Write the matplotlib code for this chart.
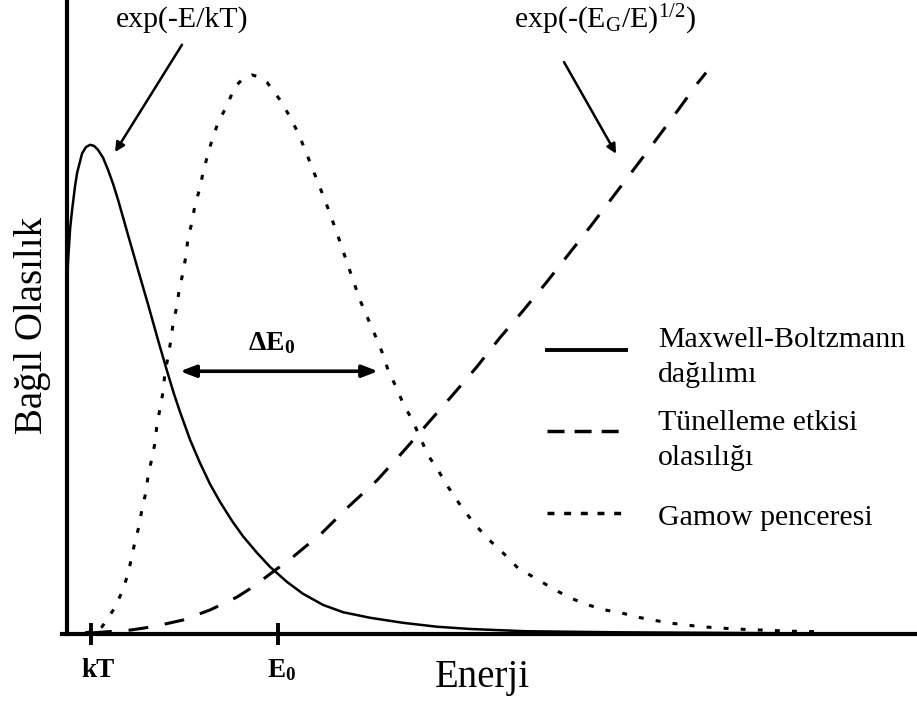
import matplotlib
matplotlib.use("Agg")
import matplotlib.pyplot as plt
import matplotlib.transforms as mtransforms

plt.rcParams['font.family'] = ['Liberation Serif', 'DejaVu Serif']
plt.rcParams['mathtext.fontset'] = 'custom'
plt.rcParams['mathtext.rm'] = 'Liberation Serif'
plt.rcParams['mathtext.it'] = 'Liberation Serif:italic'
plt.rcParams['mathtext.bf'] = 'Liberation Serif:bold'

# energy in units of kT, probability in % of the Gamow peak
mb_E = [0, 0.04, 0.13, 0.21, 0.33, 0.42, 0.63, 0.79, 0.96, 1.13, 1.29, 1.5, 1.71,
        1.92, 2.13, 2.54, 2.96, 3.38, 3.79, 4.17, 4.46, 4.71, 5.13, 5.54, 5.96,
        6.38, 6.88, 7.33, 7.92, 8.46, 9.17, 9.83, 10.67, 11.5, 12.63, 14.0, 15.42,
        16.79, 19.08, 23.04, 31.38]
mb_P = [61.5, 66.5, 72.6, 75.8, 80.0, 82.5, 86.0, 87.1, 87.5, 87.3, 86.6, 85.2, 83.0,
        80.5, 77.6, 71.4, 65.1, 58.9, 52.6, 47.0, 42.9, 39.7, 34.7, 30.6, 26.8,
        23.6, 20.2, 17.5, 14.5, 12.0, 9.3, 7.2, 5.2, 3.9, 2.9, 2.0, 1.3,
        0.9, 0.5, 0.3, 0.1]

tun_E = [1.04, 2.63, 3.58, 4.83, 5.96, 7.08, 7.63, 8.17, 9.42, 10.63, 11.71, 12.92,
         14.0, 15.04, 16.08, 17.08, 18.04, 19.0, 19.96, 20.88, 21.83, 22.75, 23.67,
         24.58, 25.46, 26.29, 26.63]
tun_P = [0.2, 0.7, 1.3, 2.5, 4.3, 6.6, 8.1, 9.8, 13.8, 18.1, 22.7, 27.5,
         32.6, 37.7, 42.8, 47.8, 53.0, 57.8, 62.8, 67.8, 73.0, 78.2, 83.4,
         88.6, 93.7, 98.6, 100.4]

gam_E = [0.75, 1.13, 1.46, 1.96, 2.29, 2.5, 2.67, 2.83, 3.0, 3.13, 3.29, 3.38, 3.54,
         3.67, 3.75, 3.88, 4.0, 4.08, 4.21, 4.33, 4.42, 4.58, 4.67, 4.83, 4.96, 5.04,
         5.21, 5.33, 5.54, 5.67, 5.88, 6.08, 6.29, 6.67, 7.0, 7.33, 7.71,
         8.04, 8.33, 8.88, 9.29, 9.63, 9.92, 10.25, 10.75, 11.25, 11.67, 12.21, 12.83,
         13.13, 13.38, 13.71, 14.0, 14.38, 14.71, 15.04, 15.46, 15.88, 16.38, 16.92,
         17.5, 18.17, 18.79, 19.63, 20.33, 21.0, 21.71, 22.42, 23.08, 23.79, 25.04,
         26.42, 27.83, 30.17, 31.42]
gam_P = [0.2, 0.5, 1.3, 4.5, 7.5, 10.2, 13.2, 16.5, 19.3, 22.5, 25.4, 28.4, 31.5,
         34.3, 37.6, 40.4, 43.3, 46.7, 49.6, 52.6, 55.6, 58.7, 61.5, 64.6, 67.8, 70.8,
         73.7, 76.7, 79.8, 82.6, 86.0, 88.9, 91.4, 94.6, 97.9, 99.3, 100.0,
         99.6, 98.7, 95.5, 92.5, 89.6, 86.6, 83.0, 77.6, 71.7, 66.4, 59.7, 53.5,
         50.4, 47.2, 44.2, 41.3, 38.3, 35.2, 32.0, 29.3, 26.3, 23.1, 20.0,
         17.2, 14.5, 11.8, 9.7, 7.9, 6.4, 5.2, 4.3, 3.8, 3.0, 2.0,
         1.3, 0.9, 0.5, 0.4]

kT = 1.0
E0 = 8.79
dE0_lo, dE0_hi, dE0_level = 4.71, 12.96, 47.0

key_labels = ['Maxwell-Boltzmann\ndağılımı', 'Tünelleme etkisi\nolasılığı', 'Gamow penceresi']

W, H = 917, 703
fig = plt.figure(figsize=(W / 100, H / 100), dpi=100)
ax = fig.add_axes([62/W, 69/H, 855/W, 634/H])
ax.set_xlim(-0.21, 35.42)
ax.set_ylim(0, 113.4)

ax.plot(mb_E, mb_P, color='black', lw=1.8)
ax.plot(tun_E, tun_P, color='black', lw=2.2, dashes=(6.5, 5.5))
ax.plot(gam_E, gam_P, color='black', lw=2.2, dashes=(1.6, 4.0))

for s in ['top', 'right']:
    ax.spines[s].set_visible(False)
ax.spines['left'].set_position(('data', 0))
ax.spines['left'].set_linewidth(3)
ax.spines['bottom'].set_linewidth(3)
ax.set_yticks([])
ax.set_xticks([kT, E0], ['kT', r'$\mathbf{E_0}$'], fontsize=19.5, fontweight='bold')
ax.tick_params(axis='x', direction='inout', length=16, width=2.8, pad=9)
# nudge the tick labels a little to the right
for lbl, dx in zip(ax.get_xticklabels(), [7, 4]):
    lbl.set_transform(lbl.get_transform() +
                      mtransforms.ScaledTranslation(dx / 100, 0, fig.dpi_scale_trans))

ax.text(-1.45, 55.2, 'Bağıl Olasılık', rotation=90, fontsize=28,
        ha='center', va='center')
ax.text(17.3, -7.7, 'Enerji', fontsize=28, ha='center', va='center', clip_on=False)

# width of the Gamow window
ax.annotate('', xy=(dE0_lo, dE0_level), xytext=(dE0_hi, dE0_level),
            arrowprops=dict(arrowstyle='<|-|>,head_length=0.47,head_width=0.18',
                            mutation_scale=20, lw=2.6, color='black',
                            shrinkA=0, shrinkB=0))
ax.text(8.54, 52.1, r'$\mathbf{\Delta E_0}$', fontsize=20, ha='center', va='center')

# labels for the two factors
ax.text(4.79, 108.6, 'exp(-E/kT)', fontsize=21.5, ha='center', va='baseline',
        clip_on=False)
ax.annotate('', xy=(2.0, 86.2), xytext=(4.79, 105.4),
            arrowprops=dict(arrowstyle='-|>', mutation_scale=14, lw=1.8,
                            color='black', shrinkA=0, shrinkB=0))
ax.text(22.42, 108.4, r'exp(-(E$_\mathrm{G}$/E)$^\mathrm{1/2}$)', fontsize=21.5,
        ha='center', va='baseline', clip_on=False)
ax.annotate('', xy=(22.88, 85.9), xytext=(20.71, 102.3),
            arrowprops=dict(arrowstyle='-|>', mutation_scale=14, lw=1.8,
                            color='black', shrinkA=0, shrinkB=0))

# key, drawn by hand; text y is the baseline of the last line
key_line_y = [350, 431, 513]
key_text_y = [382, 465, 525]
key_styles = [dict(lw=2.8), dict(lw=2.5, dashes=(4.9, 2.9)), dict(lw=2.5, dashes=(2.0, 2.8))]
for ly, ty, st, lab in zip(key_line_y, key_text_y, key_styles, key_labels):
    fig.add_artist(plt.Line2D([547/W, 626/W], [1 - ly/H, 1 - ly/H], color='black',
                              transform=fig.transFigure, **st))
    fig.text(658/W, 1 - ty/H, lab, fontsize=21.5, ha='left', va='baseline',
             linespacing=1.45)

fig.savefig('out.png', dpi=100)
